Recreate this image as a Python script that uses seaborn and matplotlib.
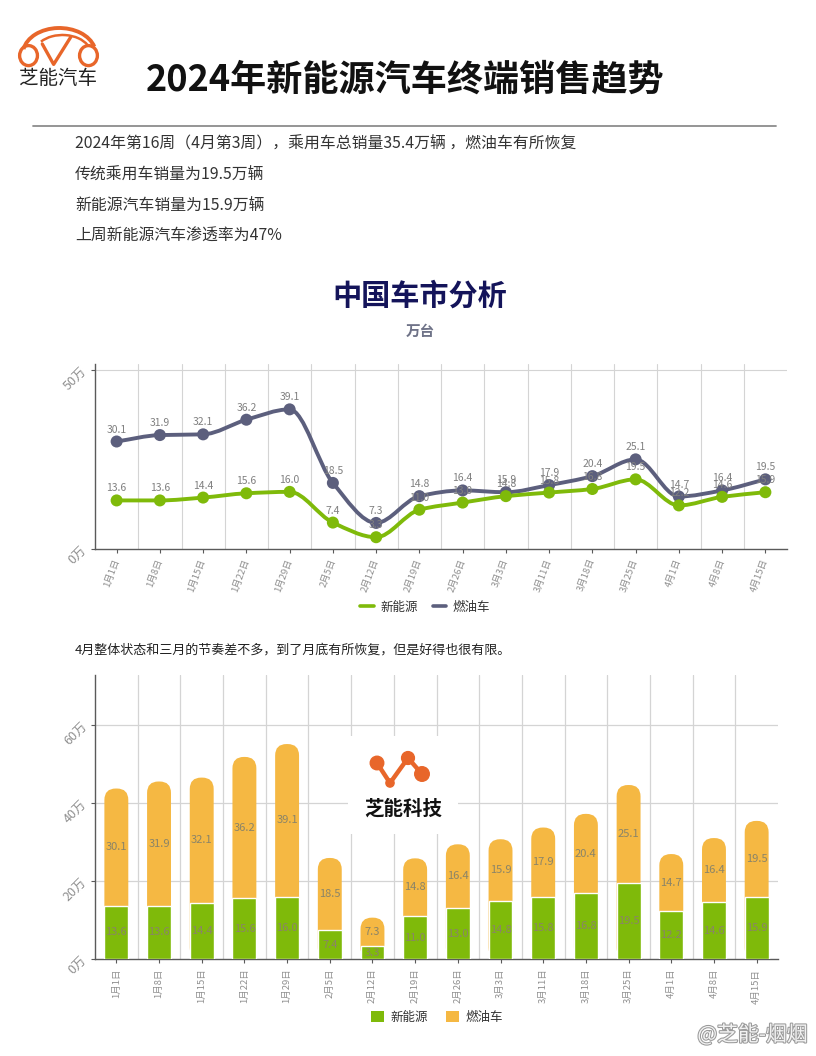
import numpy as np
import matplotlib
matplotlib.use("Agg")
import matplotlib.pyplot as plt
import seaborn as sns
from matplotlib.path import Path
from matplotlib.patches import PathPatch, FancyBboxPatch, Arc, Ellipse, Patch
from matplotlib.lines import Line2D
import matplotlib.patheffects as pe

# ---- data (万辆, weekly) ----
dates = ["1月1日", "1月8日", "1月15日", "1月22日", "1月29日", "2月5日", "2月12日", "2月19日",
         "2月26日", "3月3日", "3月11日", "3月18日", "3月25日", "4月1日", "4月8日", "4月15日"]
nev = [13.6, 13.6, 14.4, 15.6, 16.0, 7.4, 3.3, 11.0, 13.0, 14.8, 15.8, 16.8, 19.5, 12.2, 14.6, 15.9]
ice = [30.1, 31.9, 32.1, 36.2, 39.1, 18.5, 7.3, 14.8, 16.4, 15.9, 17.9, 20.4, 25.1, 14.7, 16.4, 19.5]
line_yticks = [0, 50]
bar_yticks = [0, 20, 40, 60]
series_names = ["新能源", "燃油车"]

title = "2024年新能源汽车终端销售趋势"
summary = [
    "2024年第16周（4月第3周），乘用车总销量35.4万辆 ，燃油车有所恢复",
    "传统乘用车销量为19.5万辆",
    "新能源汽车销量为15.9万辆",
    "上周新能源汽车渗透率为47%",
]
note = "4月整体状态和三月的节奏差不多，到了月底有所恢复，但是好得也很有限。"

GREEN = "#7fba0a"
SLATE = "#5c5f7d"
ORANGE = "#f5b843"
LOGO = "#e8662a"
GRID = "#d4d4d4"
TICK = "#8f8f8f"

sns.set_style("white")
plt.rcParams["font.family"] = ["Noto Sans CJK SC", "DejaVu Sans"]

W, H = 816, 1056
fig = plt.figure(figsize=(W / 100, H / 100), dpi=100)


def fx(x):
    return x / W


def fy(y):
    return 1 - y / H


def box(x0, y0, x1, y1):
    # pixel box (top-left origin) -> figure rect
    return [fx(x0), fy(y1), (x1 - x0) / W, (y1 - y0) / H]


def smooth_path(xs, ys):
    # monotone cubic bezier through the points (drawing style only)
    xs = np.asarray(xs, float)
    ys = np.asarray(ys, float)
    h = np.diff(xs)
    d = np.diff(ys) / h
    m = np.zeros(len(xs))
    m[0], m[-1] = d[0], d[-1]
    for i in range(1, len(xs) - 1):
        if d[i - 1] * d[i] > 0:
            m[i] = 3 * (h[i - 1] + h[i]) / ((2 * h[i] + h[i - 1]) / d[i - 1] + (h[i] + 2 * h[i - 1]) / d[i])
    verts = [(xs[0], ys[0])]
    codes = [Path.MOVETO]
    for i in range(len(xs) - 1):
        dx = h[i] / 3
        verts += [(xs[i] + dx, ys[i] + m[i] * dx), (xs[i + 1] - dx, ys[i + 1] - m[i + 1] * dx), (xs[i + 1], ys[i + 1])]
        codes += [Path.CURVE4] * 3
    return Path(verts, codes)


def style_axes(ax, yticks, xrot):
    sns.despine(ax=ax, top=True, right=True)
    for s in ["left", "bottom"]:
        ax.spines[s].set_color("#5a5a5a")
        ax.spines[s].set_linewidth(1.0)
    ax.set_xlim(-0.5, len(dates) - 0.5)
    ax.set_xticks(range(len(dates)))
    ax.set_xticklabels(dates, rotation=xrot, ha="right", va="center", rotation_mode="anchor",
                       fontsize=6.8, color=TICK)
    ax.set_yticks(yticks)
    ax.set_yticklabels([f"{v}万" for v in yticks], rotation=45, ha="right", va="center",
                       rotation_mode="anchor", fontsize=9, color=TICK)
    ax.tick_params(axis="both", length=3, width=0.8, color="#5a5a5a", pad=4, bottom=True, left=True)
    ax.set_xlabel("")
    ax.set_ylabel("")
    for b in np.arange(0.5, len(dates) - 1, 1.0):
        ax.axvline(b, color=GRID, lw=0.8, zorder=0)
    for t in yticks[1:]:
        ax.axhline(t, color=GRID, lw=0.8, zorder=0)


# ---- header ----
lg = fig.add_axes(box(18, 26, 99, 66))
lg.set_xlim(0, 2.0)
lg.set_ylim(0, 1.0)
lg.axis("off")
lg.add_patch(Arc((1.02, 0.30), 1.80, 1.30, theta1=12, theta2=172, lw=2.8, color=LOGO, clip_on=False))
lg.add_patch(Arc((1.10, 0.30), 1.40, 0.95, theta1=20, theta2=150, lw=1.8, color=LOGO, clip_on=False))
lg.add_patch(Ellipse((0.26, 0.26), 0.44, 0.50, fill=False, lw=2.4, ec=LOGO, clip_on=False))
lg.add_patch(Ellipse((1.74, 0.26), 0.44, 0.50, fill=False, lw=2.4, ec=LOGO, clip_on=False))
lg.plot([0.60, 0.88, 1.30], [0.55, 0.04, 0.72], color=LOGO, lw=2.4, solid_capstyle="round", clip_on=False)
fig.text(fx(58), fy(79), "芝能汽车", ha="center", va="center", fontsize=14, fontweight="medium", color="#222222")

fig.text(fx(405), fy(80), title, ha="center", va="center", fontsize=26, fontweight="heavy", color="#111111")
fig.add_artist(Line2D([fx(33), fx(776)], [fy(126), fy(126)], color="#8c8c8c", lw=1.3))
for i, s in enumerate(summary):
    fig.text(fx(75), fy(143 + i * 31), s, ha="left", va="center", fontsize=11.4, color="#333333")

fig.text(fx(420), fy(296), "中国车市分析", ha="center", va="center", fontsize=21, fontweight="heavy",
         color="#14145a")
fig.text(fx(420), fy(331), "万台", ha="center", va="center", fontsize=10.5, fontweight="bold", color="#6f7388")

# ---- line chart ----
ax1 = fig.add_axes(box(95, 364, 787, 549))
xs = np.arange(len(dates))
for vals, col in [(ice, SLATE), (nev, GREEN)]:
    ax1.add_patch(PathPatch(smooth_path(xs, vals), fill=False, ec=col, lw=2.8, zorder=2))
    sns.scatterplot(x=xs, y=vals, color=col, s=75, edgecolor="none", ax=ax1, zorder=3, legend=False)
    for x, v in zip(xs, vals):
        ax1.annotate(f"{v:.1f}", (x, v), xytext=(0, 5), textcoords="offset points", ha="center",
                     va="bottom", fontsize=7.5, color="#808080", zorder=4)
ax1.set_ylim(0, 51.8)
style_axes(ax1, line_yticks, 70)

fig.legend(handles=[Line2D([], [], color=GREEN, lw=2.6), Line2D([], [], color=SLATE, lw=2.6)],
           labels=series_names, loc="center", bbox_to_anchor=(fx(425), fy(607)), ncol=2, frameon=False,
           fontsize=9, handlelength=1.1, columnspacing=1.2, handletextpad=0.5, labelcolor="#333333")

fig.text(fx(75), fy(650), note, ha="left", va="center", fontsize=9.4, color="#222222")

# ---- stacked bar chart ----
ax2 = fig.add_axes(box(95, 675, 778, 959))
total = [a + b for a, b in zip(nev, ice)]
bw = 0.56
sns.barplot(x=dates, y=total, order=dates, color=ORANGE, saturation=1, width=bw, ax=ax2, zorder=2)
ax2.set_ylim(0, 72.8)
style_axes(ax2, bar_yticks, 90)

# round the tops of the orange bars
bb = ax2.get_window_extent()
aspect = (72.8 / bb.height) / (len(dates) / bb.width)
for p in list(ax2.patches):
    x0, y0, w, h = p.get_x(), p.get_y(), p.get_width(), p.get_height()
    p.remove()
    ax2.add_patch(FancyBboxPatch((x0, y0), w, h, boxstyle=f"round,pad=0,rounding_size={w / 2 * 0.95}",
                                 mutation_aspect=aspect, fc=ORANGE, ec="none", zorder=2))
sns.barplot(x=dates, y=nev, order=dates, color=GREEN, saturation=1, width=bw, ax=ax2, zorder=3)
style_axes(ax2, bar_yticks, 90)

for i, (a, b) in enumerate(zip(nev, ice)):
    ax2.text(i, a / 2, f"{a:.1f}", ha="center", va="center", fontsize=8, color="#8a8468", zorder=5)
    ax2.text(i, a + b / 2, f"{b:.1f}", ha="center", va="center", fontsize=8, color="#8a8468", zorder=5)

fig.legend(handles=[Patch(fc=GREEN, ec="none"), Patch(fc=ORANGE, ec="none")], labels=series_names,
           loc="center", bbox_to_anchor=(fx(437), fy(1017)), ncol=2, frameon=False, fontsize=9,
           handlelength=1.0, handleheight=1.0, columnspacing=1.5, handletextpad=0.5, labelcolor="#333333")

# ---- watermark logo inside bar chart ----
wm = fig.add_axes(box(348, 736, 458, 834))
wm.set_facecolor("white")
wm.set_xlim(0, 110)
wm.set_ylim(98, 0)
for s in wm.spines.values():
    s.set_visible(False)
wm.set_xticks([])
wm.set_yticks([])
wm.plot([29, 42, 60, 74], [27, 47, 22, 38], color=LOGO, lw=3.2, solid_capstyle="round")
wm.scatter([29, 42, 60, 74], [27, 47, 22, 38], s=[95, 35, 85, 110], color=LOGO, zorder=3)
wm.text(55, 73, "芝能科技", ha="center", va="center", fontsize=14, fontweight="bold", color="#111111")

# ---- weibo watermark ----
fig.text(fx(808), fy(1035), "@芝能-烟烟", ha="right", va="center", fontsize=15, color="#f2f2f2",
         path_effects=[pe.withStroke(linewidth=1.5, foreground="#9a9a9a")])

fig.savefig("out.png", dpi=100)
